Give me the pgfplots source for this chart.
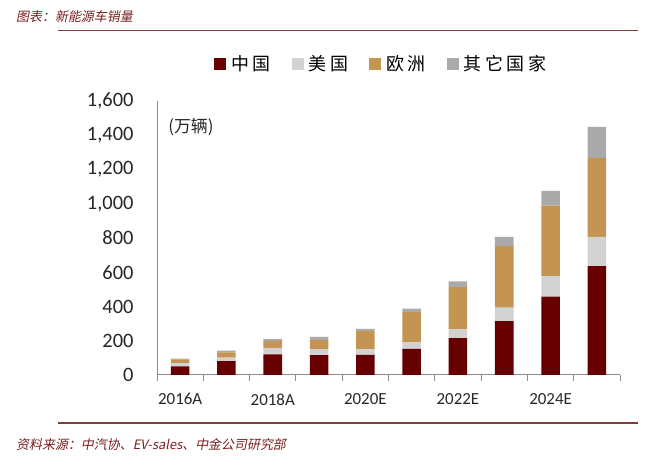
\documentclass[border=0pt]{standalone}
\usepackage{fontspec}
\setmainfont{Carlito}
\newfontfamily\cjk{Noto Sans CJK SC}
\newfontfamily\cjkleg{Noto Sans CJK SC}[LetterSpace=20]
\newfontfamily\cjkit{Noto Sans CJK SC}[FakeSlant=0.2]
\usepackage{pgfplots}
\usepackage{pgfplotstable}
\pgfplotsset{compat=1.18}

\definecolor{cnred}{RGB}{102,0,0}
\definecolor{usgray}{RGB}{210,210,210}
\definecolor{eutan}{RGB}{196,148,82}
\definecolor{otgray}{RGB}{170,170,170}
\definecolor{titlecol}{RGB}{120,30,30}
\definecolor{rulecol}{RGB}{130,60,60}
\definecolor{axiscol}{RGB}{140,140,140}

% sales, 10k vehicles
\pgfplotstableread{
x cn us eu ot
0 50 19 22 5
1 81 20 31 10
2 121 37 41 12
3 116 35 52 20
4 118 31 107 14
5 153 37 177 20
6 215 51 247 33
7 315 78 360 53
8 457 121 411 86
9 636 171 461 181
}\sales

\begin{document}
\begin{tikzpicture}
\useasboundingbox (0,0) rectangle (659bp,468bp);

\node[anchor=west, text=titlecol, font=\cjkit\fontsize{13}{13}\selectfont, inner sep=0]
  at (16bp,451bp) {图表：新能源车销量};
\draw[rulecol, line width=1.5bp] (58bp,437.5bp) -- (638bp,437.5bp);
\draw[rulecol, line width=1.5bp] (58bp,45bp) -- (638bp,45bp);
\node[anchor=west, text=titlecol, font=\cjkit\fontsize{13}{13}\selectfont, inner sep=0]
  at (16bp,23bp) {资料来源：中汽协、EV-sales、中金公司研究部};

\begin{axis}[
    at={(157bp,93bp)}, anchor=south west,
    scale only axis, width=463bp, height=274bp,
    ybar stacked, bar width=0.4,
    xmin=-0.5, xmax=9.5, ymin=0, ymax=1600,
    axis x line*=bottom, axis y line*=left,
    axis line style={axiscol, line width=1bp},
    xtick={0,2,4,6,8},
    xticklabels={2016A,2018A,2020E,2022E,2024E},
    minor xtick={-0.5,0.5,...,9.5},
    major tick length=0pt,
    minor tick length=6bp,
    minor tick style={axiscol, line width=1bp},
    tick align=outside,
    ytick={0,200,...,1600},
    /pgf/number format/1000 sep={,},
    /pgf/number format/assume math mode=true,
    xticklabel style={font=\fontsize{17}{17}\selectfont, text=black!85, yshift=-15bp},
    yticklabel style={font=\fontsize{20.5}{20.5}\selectfont, text=black!85, xshift=-20bp},
    legend columns=4,
    legend style={draw=none, fill=none, at={(rel axis cs:0.484,1.135)}, anchor=center,
      font=\cjkleg\fontsize{18}{18}\selectfont,
      /tikz/every odd column/.append style={column sep=3bp},
      /tikz/every even column/.append style={column sep=19bp}},
    legend image code/.code={\fill[#1] (0bp,-6bp) rectangle (12bp,6bp);},
    every axis plot/.append style={draw=none},
]
\addplot[fill=cnred] table[x=x, y=cn] {\sales};
\addlegendentry{中国}
\addplot[fill=usgray] table[x=x, y=us] {\sales};
\addlegendentry{美国}
\addplot[fill=eutan] table[x=x, y=eu] {\sales};
\addlegendentry{欧洲}
\addplot[fill=otgray] table[x=x, y=ot] {\sales};
\addlegendentry{其它国家}
\node[anchor=west, font=\cjk\fontsize{17}{17}\selectfont, text=black!85, inner sep=0]
  at (rel axis cs:0.024,0.905) {(万辆)};
\end{axis}
\end{tikzpicture}
\end{document}
